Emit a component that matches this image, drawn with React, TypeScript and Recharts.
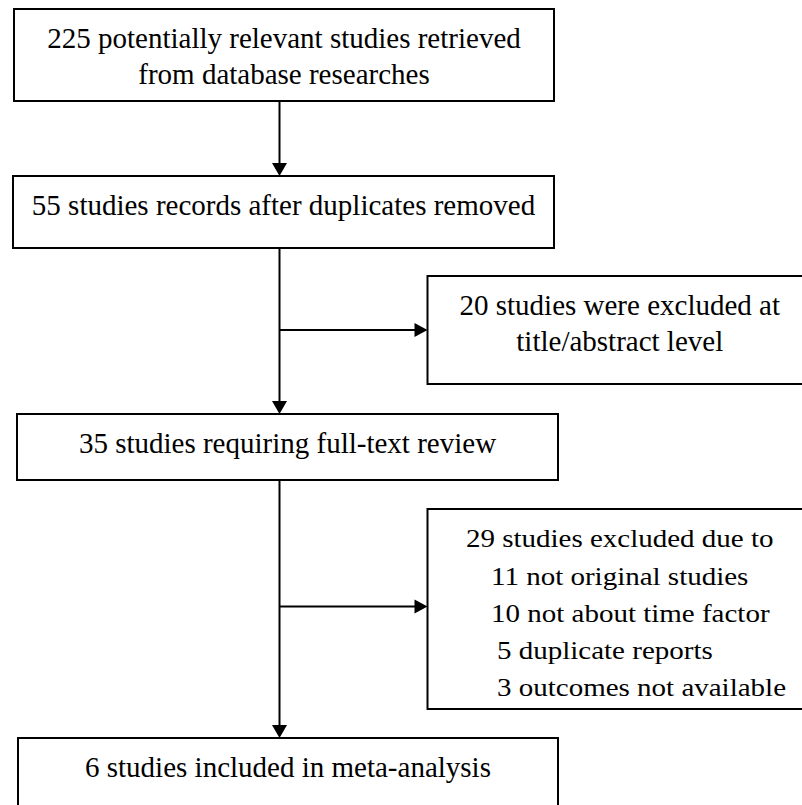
import { ScatterChart, Scatter, XAxis, YAxis, ReferenceArea, ReferenceLine } from 'recharts';

// main flow boxes (chart units = pixels of the 802x805 canvas, y grows downward)
const stageText = [
  ['225 potentially relevant studies retrieved', 'from database researches'],
  ['55 studies records after duplicates removed'],
  ['35 studies requiring full-text review'],
  ['6 studies included in meta-analysis'],
];
const stageLeft = [14, 13, 17, 18];
const stageRight = [554, 554, 558, 558];
const stageTop = [9, 176, 414, 738];
const stageBottom = [101, 248, 480, 830];

// side boxes with the excluded records
const exclusionText = [
  ['20 studies were excluded at', 'title/abstract level'],
  [
    '29 studies excluded due to',
    '11 not original studies',
    '10 not about time factor',
    '5 duplicate reports',
    '3 outcomes not available',
  ],
];
const exclusionLeft = [427.5, 427.5];
const exclusionRight = [812, 812];
const exclusionTop = [276, 509];
const exclusionBottom = [384, 709];
const branchY = [330, 606.5];

const spineX = 279.5;
const FONT = '"Liberation Serif", "Times New Roman", serif';
const FONT_SIZE = 29;
const LINE_STEP = 36.7;
const FIRST_BASELINE = 38.5;
// the reasons list is squeezed vertically in the original
const REASON_STEP = 37.3;
const REASON_FIRST = 38.3;
const REASON_SCALE_Y = 0.87;
const reasonIndent = [null, 63.5, 63.5, 69.5, 69.5];

type TextPoint = { x: number; y: number; text: string; anchor: string; sy: number };

const textPoints: TextPoint[] = [];
stageText.forEach((lines, b) => {
  lines.forEach((text, i) => {
    textPoints.push({
      x: (stageLeft[b] + stageRight[b]) / 2,
      y: stageTop[b] + FIRST_BASELINE + i * LINE_STEP,
      text,
      anchor: 'middle',
      sy: 1,
    });
  });
});
exclusionText[0].forEach((text, i) => {
  textPoints.push({
    x: (exclusionLeft[0] + exclusionRight[0]) / 2,
    y: exclusionTop[0] + FIRST_BASELINE + i * LINE_STEP,
    text,
    anchor: 'middle',
    sy: 1,
  });
});
exclusionText[1].forEach((text, i) => {
  const indent = reasonIndent[i];
  textPoints.push({
    x: indent == null ? (exclusionLeft[1] + exclusionRight[1]) / 2 : exclusionLeft[1] + indent,
    y: exclusionTop[1] + REASON_FIRST + i * REASON_STEP,
    text,
    anchor: indent == null ? 'middle' : 'start',
    sy: REASON_SCALE_Y,
  });
});

// arrow tips: down into each next stage, right into each exclusion box
const arrowTips = [
  ...stageTop.slice(1).map((y) => ({ x: spineX, y, dir: 'down' })),
  ...branchY.map((y, j) => ({ x: exclusionLeft[j], y, dir: 'right' })),
];

const TextShape = (props: any) => {
  const { cx, cy, payload } = props;
  return (
    <text
      x={cx}
      y={cy}
      textAnchor={payload.anchor}
      fontFamily={FONT}
      fontSize={FONT_SIZE}
      fill="#000"
      transform={`translate(0 ${cy}) scale(1 ${payload.sy}) translate(0 ${-cy})`}
    >
      {payload.text}
    </text>
  );
};

const ArrowHead = (props: any) => {
  const { cx, cy, payload } = props;
  const pts =
    payload.dir === 'down'
      ? `${cx - 7.5},${cy - 13} ${cx + 7.5},${cy - 13} ${cx},${cy}`
      : `${cx - 13},${cy - 7} ${cx - 13},${cy + 7} ${cx},${cy}`;
  return <polygon points={pts} fill="#000" />;
};

export default function App() {
  return (
    <div style={{ width: 802, height: 805, background: '#fff' }}>
      <style>{'body{margin:0}'}</style>
      <ScatterChart width={802} height={805} margin={{ top: 0, right: 0, bottom: 0, left: 0 }}>
        <XAxis type="number" dataKey="x" domain={[0, 802]} allowDataOverflow hide />
        <YAxis type="number" dataKey="y" domain={[0, 805]} allowDataOverflow reversed hide />

        {stageTop.slice(1).map((y, i) => (
          <ReferenceLine
            key={`down-${i}`}
            segment={[
              { x: spineX, y: stageBottom[i] },
              { x: spineX, y: y - 6 },
            ]}
            stroke="#000"
            strokeWidth={2}
            ifOverflow="visible"
          />
        ))}
        {branchY.map((y, j) => (
          <ReferenceLine
            key={`side-${j}`}
            segment={[
              { x: spineX, y },
              { x: exclusionLeft[j] - 6, y },
            ]}
            stroke="#000"
            strokeWidth={2}
            ifOverflow="visible"
          />
        ))}

        {stageTop.map((top, i) => (
          <ReferenceArea
            key={`stage-${i}`}
            x1={stageLeft[i]}
            x2={stageRight[i]}
            y1={top}
            y2={stageBottom[i]}
            fill="#fff"
            fillOpacity={1}
            stroke="#000"
            strokeWidth={2}
            ifOverflow="visible"
          />
        ))}
        {exclusionTop.map((top, j) => (
          <ReferenceArea
            key={`excl-${j}`}
            x1={exclusionLeft[j]}
            x2={exclusionRight[j]}
            y1={top}
            y2={exclusionBottom[j]}
            fill="#fff"
            fillOpacity={1}
            stroke="#000"
            strokeWidth={2}
            ifOverflow="visible"
          />
        ))}

        <Scatter data={arrowTips} shape={<ArrowHead />} isAnimationActive={false} />
        <Scatter data={textPoints} shape={<TextShape />} isAnimationActive={false} />
      </ScatterChart>
    </div>
  );
}
